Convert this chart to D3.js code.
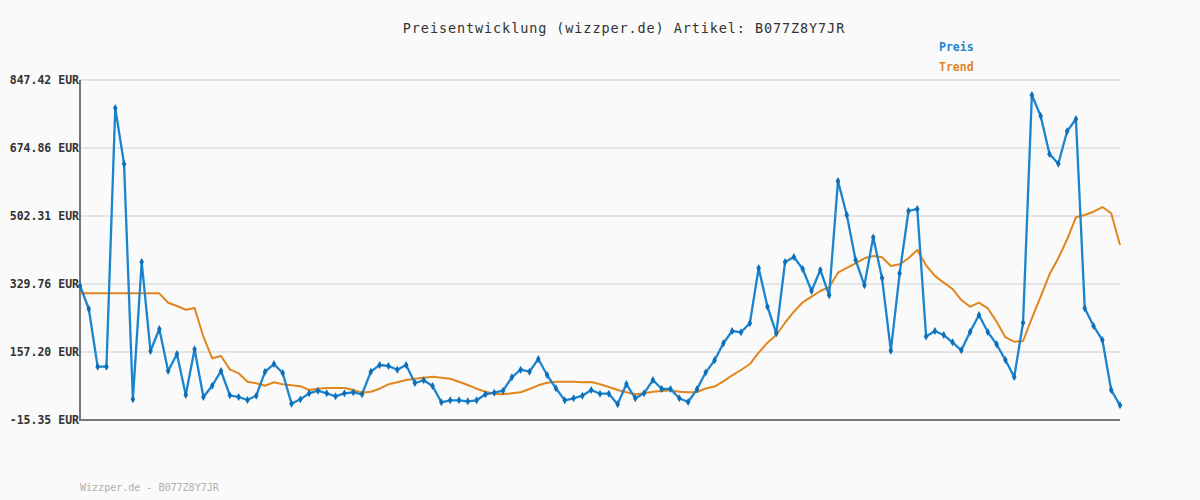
<!DOCTYPE html>
<html><head><meta charset="utf-8">
<script src="https://cdn.jsdelivr.net/npm/d3@7"></script>
<style>
html,body{margin:0;padding:0;background:#fafafa;}
svg{display:block;}
text{font-family:"DejaVu Sans Mono",monospace;}
</style></head>
<body><svg id="c" width="1200" height="500"></svg>
<script>
const titleText = "Preisentwicklung (wizzper.de) Artikel: B077Z8Y7JR";
const footerText = "Wizzper.de - B077Z8Y7JR";
const seriesNames = ["Preis", "Trend"];
const yTicks = [-15.35, 157.20, 329.76, 502.31, 674.86, 847.42];
const preis = [325.5,266.3,119.9,119.9,776.4,634.3,37.1,385.6,159.7,215.6,
109.0,152.1,48.1,164.0,43.0,71.7,109.0,47.3,43.0,35.4,
46.3,107.2,126.7,103.9,26.0,37.1,52.4,59.0,52.4,44.8,
52.4,55.0,49.9,107.2,124.2,121.7,112.3,124.2,78.5,85.4,
70.9,29.5,34.6,34.6,32.1,34.6,49.9,53.9,59.0,93.0,
112.3,107.2,139.4,98.8,65.1,34.6,39.7,46.3,60.8,51.4,
51.4,24.5,75.9,39.7,52.4,86.1,63.3,63.3,39.7,30.3,
62.5,105.6,136.1,179.3,210.5,207.2,230.0,370.4,272.2,204.6,
385.6,398.3,367.8,312.0,365.3,301.1,591.1,504.8,390.7,326.4,
448.2,344.9,160.5,356.9,515.0,520.1,196.4,210.5,200.3,181.8,
161.5,208.7,251.1,207.9,176.7,136.9,93.8,231.5,809.4,756.1,
659.6,635.0,717.2,748.5,268.1,223.2,187.6,60.8,21.9];
const trend = [306.1,306.1,306.1,306.1,306.1,306.1,306.1,306.1,306.1,306.1,
282.3,274.0,264.5,268.8,196.0,141.2,147.0,113.2,103.1,81.8,
77.8,71.7,80.3,75.2,73.0,70.5,60.8,64.1,65.8,65.8,
65.8,60.8,54.0,56.5,64.1,75.2,80.3,86.1,89.4,92.0,
94.5,92.0,89.4,81.8,73.4,64.1,56.5,51.5,49.9,52.4,
55.0,63.3,72.7,79.3,81.8,81.8,81.8,80.3,81.1,75.2,
68.4,60.8,55.0,49.9,52.4,56.5,58.2,59.9,56.5,55.0,
55.8,64.6,69.6,82.8,98.1,111.5,126.7,155.4,180.8,200.3,
231.5,259.4,283.3,297.6,312.0,321.4,358.4,370.4,382.3,395.0,
400.8,397.5,375.4,379.7,395.0,416.0,377.1,350.4,333.1,317.1,
289.1,272.2,282.3,268.1,234.1,194.5,183.3,185.1,242.7,297.6,
354.3,395.0,443.2,499.0,504.8,513.2,525.1,509.2,428.8];

const svg = d3.select("#c");
const L = 80, R = 1120, T = 80, B = 420;
const x = d3.scaleLinear().domain([0, preis.length - 1]).range([L, R]);
const y = d3.scaleLinear().domain([yTicks[0], yTicks[yTicks.length - 1]]).range([B, T]);

svg.append("rect").attr("width", 1200).attr("height", 500).attr("fill", "#fafafa");

// grid
svg.append("g").selectAll("line").data(yTicks).join("line")
  .attr("x1", L).attr("x2", R).attr("y1", d => y(d)).attr("y2", d => y(d))
  .attr("stroke", "#e4e4e4").attr("stroke-width", 2);

// y labels
svg.append("g").selectAll("text").data(yTicks).join("text")
  .attr("x", 79).attr("y", d => y(d) + 4).attr("text-anchor", "end")
  .attr("font-size", 11.5).attr("font-weight", "bold").attr("fill", "#333")
  .text(d => d.toFixed(2) + " EUR");

// axes
svg.append("line").attr("x1", L).attr("x2", L).attr("y1", T).attr("y2", B + 1)
  .attr("stroke", "#777").attr("stroke-width", 2);
svg.append("line").attr("x1", L - 1).attr("x2", R).attr("y1", B).attr("y2", B)
  .attr("stroke", "#777").attr("stroke-width", 2);

const line = d3.line().x((d, i) => x(i)).y(d => y(d));

// trend
svg.append("path").datum(trend).attr("d", line).attr("fill", "none")
  .attr("stroke", "#e0861c").attr("stroke-width", 2).attr("stroke-linejoin", "round");

// preis
svg.append("path").datum(preis).attr("d", line).attr("fill", "none")
  .attr("stroke", "#1a84cf").attr("stroke-width", 2.3).attr("stroke-linejoin", "round");

svg.append("g").selectAll("path").data(preis).join("path")
  .attr("transform", (d, i) => `translate(${x(i)},${y(d)})`)
  .attr("d", d3.symbol().type(d3.symbolDiamond).size(18))
  .attr("fill", "#0d6fb8");

// title
svg.append("text").attr("x", 624).attr("y", 33).attr("text-anchor", "middle")
  .attr("font-size", 13.5).attr("letter-spacing", 0.9).attr("fill", "#333")
  .text(titleText);

// legend
const legColors = ["#1a84cf", "#e0861c"];
svg.append("g").selectAll("text").data(seriesNames).join("text")
  .attr("x", 939).attr("y", (d, i) => 51 + i * 20)
  .attr("font-size", 11.5).attr("font-weight", "bold")
  .attr("fill", (d, i) => legColors[i]).text(d => d);

// footer
svg.append("text").attr("x", 80).attr("y", 491)
  .attr("font-size", 10.2).attr("letter-spacing", -0.1).attr("fill", "#b0b0b0")
  .text(footerText);
</script></body></html>
